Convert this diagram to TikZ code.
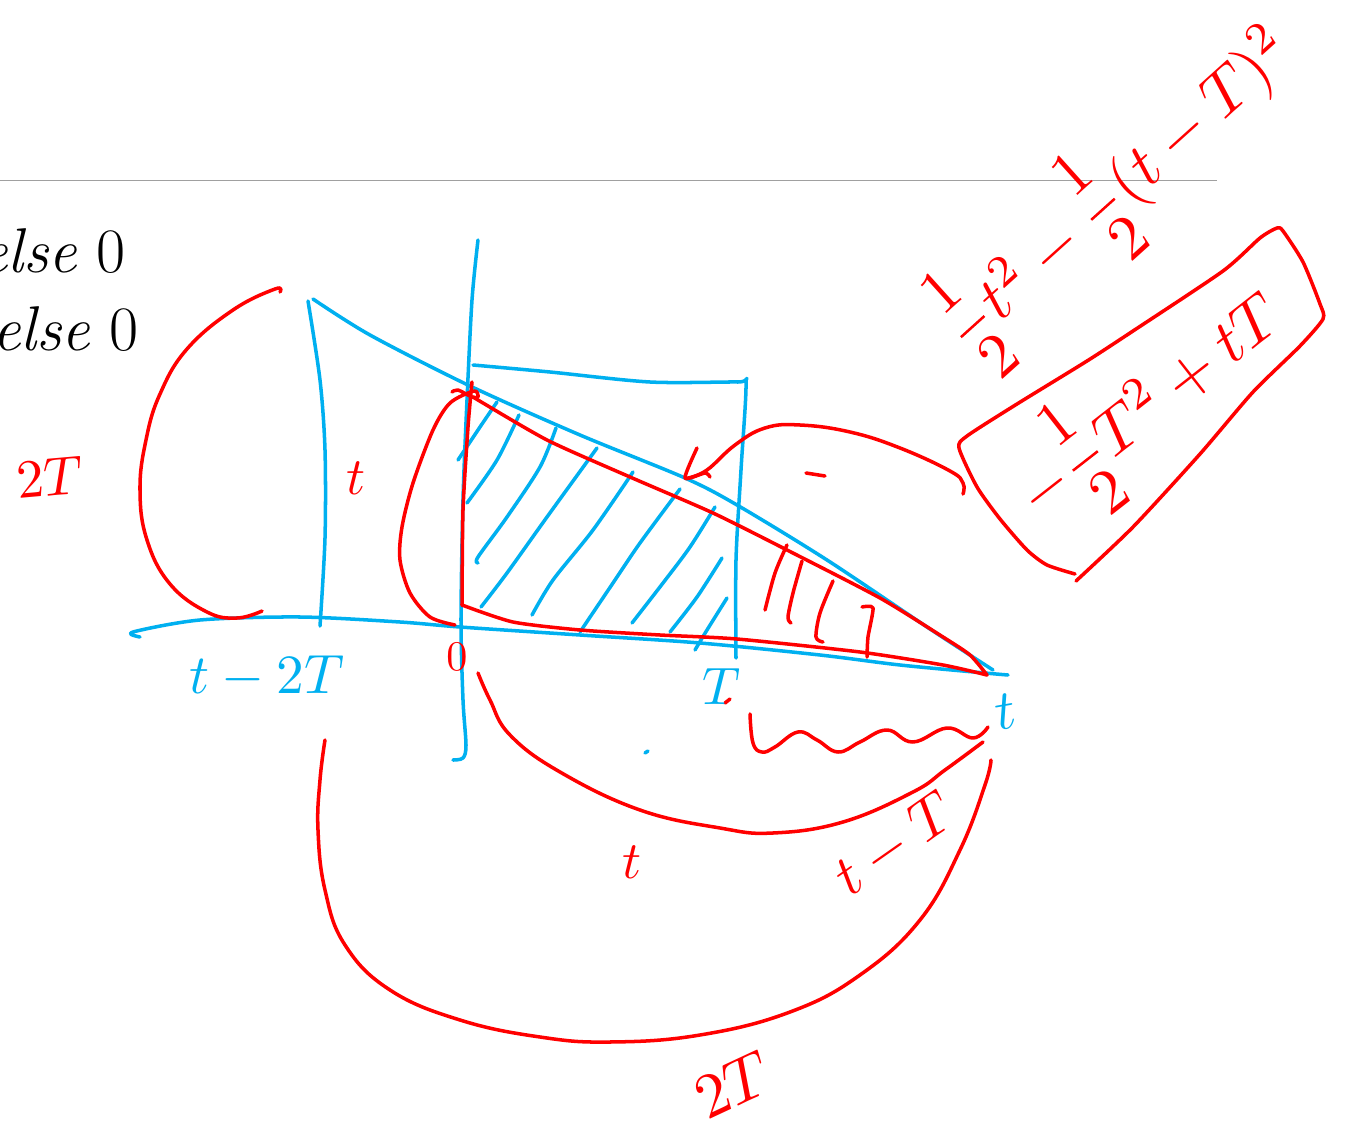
\documentclass[tikz,border=0pt]{standalone}
\usepackage{amsmath}
\usepackage{fontspec}
\definecolor{inkred}{HTML}{FF0000}
\definecolor{inkblue}{HTML}{00B0F0}
\definecolor{inkrule}{HTML}{A0A0A0}
\tikzset{
  redstroke/.style={inkred, line width=2pt, line cap=round, line join=round},
  bluestroke/.style={inkblue, line width=2pt, line cap=round, line join=round},
  redlabel/.style={text=inkred, inner sep=0pt},
  bluelabel/.style={text=inkblue, inner sep=0pt},
  printed/.style={anchor=base east, inner sep=0pt, font=\fontsize{36}{40}\selectfont}
}
\begin{document}
\begin{tikzpicture}[x=0.02cm, y=-0.02cm]
  \useasboundingbox (0,0) rectangle (1353,1132);
  \fill[white] (0,0) rectangle (1353,1132);
  \draw[inkrule, line width=0.8pt] (0,180.5) -- (1217,180.5);
  \node[printed] (elseone) at (126,272) {\textit{else} 0};
  \node[printed] (elsetwo) at (139,350) {\textit{else} 0};

  % axes and box
  \draw[bluestroke] plot[smooth, tension=0.5] coordinates {(140,637) (133,632) (200,620) (300,617) (400,622) (460,627) (580,635) (700,643) (820,655) (900,665) (985,673) (1008,675)};
  \draw[bluestroke] plot[smooth, tension=0.5] coordinates {(478,240) (472,300) (467,400) (463,500) (461,620) (463,700) (466,745) (463,758) (453,760)};
  \draw[bluestroke] plot[smooth, tension=0.5] coordinates {(473,365) (550,372) (650,382) (738,382) (746,384) (741,470) (736,560) (736,658)};
  \draw[bluestroke] plot[smooth, tension=0.5] coordinates {(308,301) (320,380) (325,450) (325,538) (320,626)};
  \draw[bluestroke] plot[smooth, tension=0.5] coordinates {(313,299) (370,335) (470,386) (580,435) (685,478) (737,505) (827,560) (927,627) (993,670)};

  % hatching
  \draw[bluestroke] plot[smooth] coordinates {(497,402) (480,427) (458,460)};
  \draw[bluestroke] plot[smooth] coordinates {(519,415) (497,460) (467,503)};
  \draw[bluestroke] plot[smooth] coordinates {(556,428) (540,467) (507,517) (478,557) (478,563)};
  \draw[bluestroke] plot[smooth] coordinates {(597,448) (547,517) (507,573) (481,607)};
  \draw[bluestroke] plot[smooth] coordinates {(633,472) (593,530) (553,580) (532,615)};
  \draw[bluestroke] plot[smooth] coordinates {(680,489) (640,543) (613,583) (580,632)};
  \draw[bluestroke] plot[smooth] coordinates {(715,507) (690,547) (663,583) (632,623)};
  \draw[bluestroke] plot[smooth] coordinates {(722,558) (697,597) (670,632)};
  \draw[bluestroke] plot[smooth] coordinates {(727,598) (707,630) (695,650)};
  \draw[redstroke] plot[smooth] coordinates {(787,545) (775,573) (765,610)};
  \draw[redstroke] plot[smooth] coordinates {(802,561) (793,593) (788,617) (791,623)};
  \draw[redstroke] plot[smooth] coordinates {(833,581) (820,613) (816,637) (823,642)};
  \draw[redstroke] plot[smooth, tension=0.4] coordinates {(862,607) (873,608) (868,637) (867,657)};

  % triangle
  \draw[redstroke] plot[smooth, tension=0.4] coordinates {(472,382) (468,427) (463,510) (462,605)};
  \draw[redstroke] plot[smooth, tension=0.4] coordinates {(462,605) (513,622) (580,630) (660,635) (737,639) (860,652) (943,665) (987,675)};
  \draw[redstroke] plot[smooth, tension=0.4] coordinates {(987,675) (970,655) (943,637) (880,598) (787,550) (713,513) (630,477) (547,440) (473,397)};

  % braces
  \draw[redstroke] plot[smooth, tension=0.5] coordinates {(452,392) (458,390) (472,397) (478,397) (474,391) (450,403) (433,430) (413,483) (402,527) (400,560) (410,593) (430,617) (455,625)};
  \draw[redstroke] plot[smooth, tension=0.7] coordinates {(280,292) (275,289) (233,310) (187,349) (160,394) (146,440) (140,490) (147,540) (170,584) (207,612) (237,618) (262,611)};
  \draw[redstroke] plot[smooth, tension=0.7] coordinates {(478,673) (490,700) (510,735) (560,772) (640,810) (720,828) (773,833) (843,822) (913,792) (945,770) (983,742)};
  \draw[redstroke] plot[smooth, tension=0.7] coordinates {(325,740) (320,780) (318,830) (325,890) (345,945) (390,990) (460,1020) (540,1037) (610,1042) (700,1035) (790,1012) (860,975) (920,920) (960,850) (985,785) (991,760)};
  \draw[redstroke] plot[smooth, tension=0.7] coordinates {(750,714) (753,743) (762,752) (775,747) (798,732) (817,740) (838,752) (860,742) (887,730) (913,742) (947,728) (973,738) (988,727)};

  % outline round the second formula
  \draw[redstroke] plot[smooth, tension=0.4] coordinates {(1076,581) (1133,527) (1200,454) (1253,392) (1300,346) (1323,319) (1320,304) (1303,262) (1283,231) (1277,228) (1260,238) (1223,271) (1133,331) (1087,361) (1017,404) (967,436) (959,448) (977,487) (1000,519) (1027,550) (1047,565) (1075,574)};

  % arrow to the triangle
  \draw[redstroke] plot[smooth, tension=0.7] coordinates {(963,494) (963,483) (950,471) (900,448) (850,432) (800,425) (765,428) (735,445) (707,470) (688,478)};
  \draw[redstroke] plot[smooth, tension=0.4] coordinates {(697,448) (685,478) (705,473) (710,477)};

  % specks
  \draw[redstroke] (806,473) -- (825,476);
  \draw[redstroke] (725,703) -- (730,699);
  \draw[bluestroke] (645,753) -- (648,751);

  \node[redlabel, scale=3.1, rotate=5] (twotleft) at (50,477) {$2T$};
  \node[redlabel, scale=3] (tleft) at (356,478) {$t$};
  \node[bluelabel, scale=3.15] (ttwot) at (267,677) {$t-2T$};
  \node[redlabel, scale=2.4] (zero) at (457,657) {$0$};
  \node[bluelabel, scale=3] (tsmall) at (722,686) {$T$};
  \node[bluelabel, scale=3.2, rotate=10] (tright) at (1005,712) {$t$};
  \node[redlabel, scale=3] (tlower) at (632,862) {$t$};
  \node[redlabel, scale=3.3, rotate=35] (tminust) at (895,845) {$t-T$};
  \node[redlabel, scale=3.6, rotate=25] (twotlower) at (733,1085) {$2T$};
  \node[redlabel, scale=3.6, rotate=42] (firstline) at (1118,190) {$\dfrac{1}{2}t^2-\dfrac{1}{2}(t-T)^2$};
  \node[redlabel, scale=3.6, rotate=38] (secondline) at (1150,405) {$-\dfrac{1}{2}T^2+tT$};
\end{tikzpicture}
\end{document}
